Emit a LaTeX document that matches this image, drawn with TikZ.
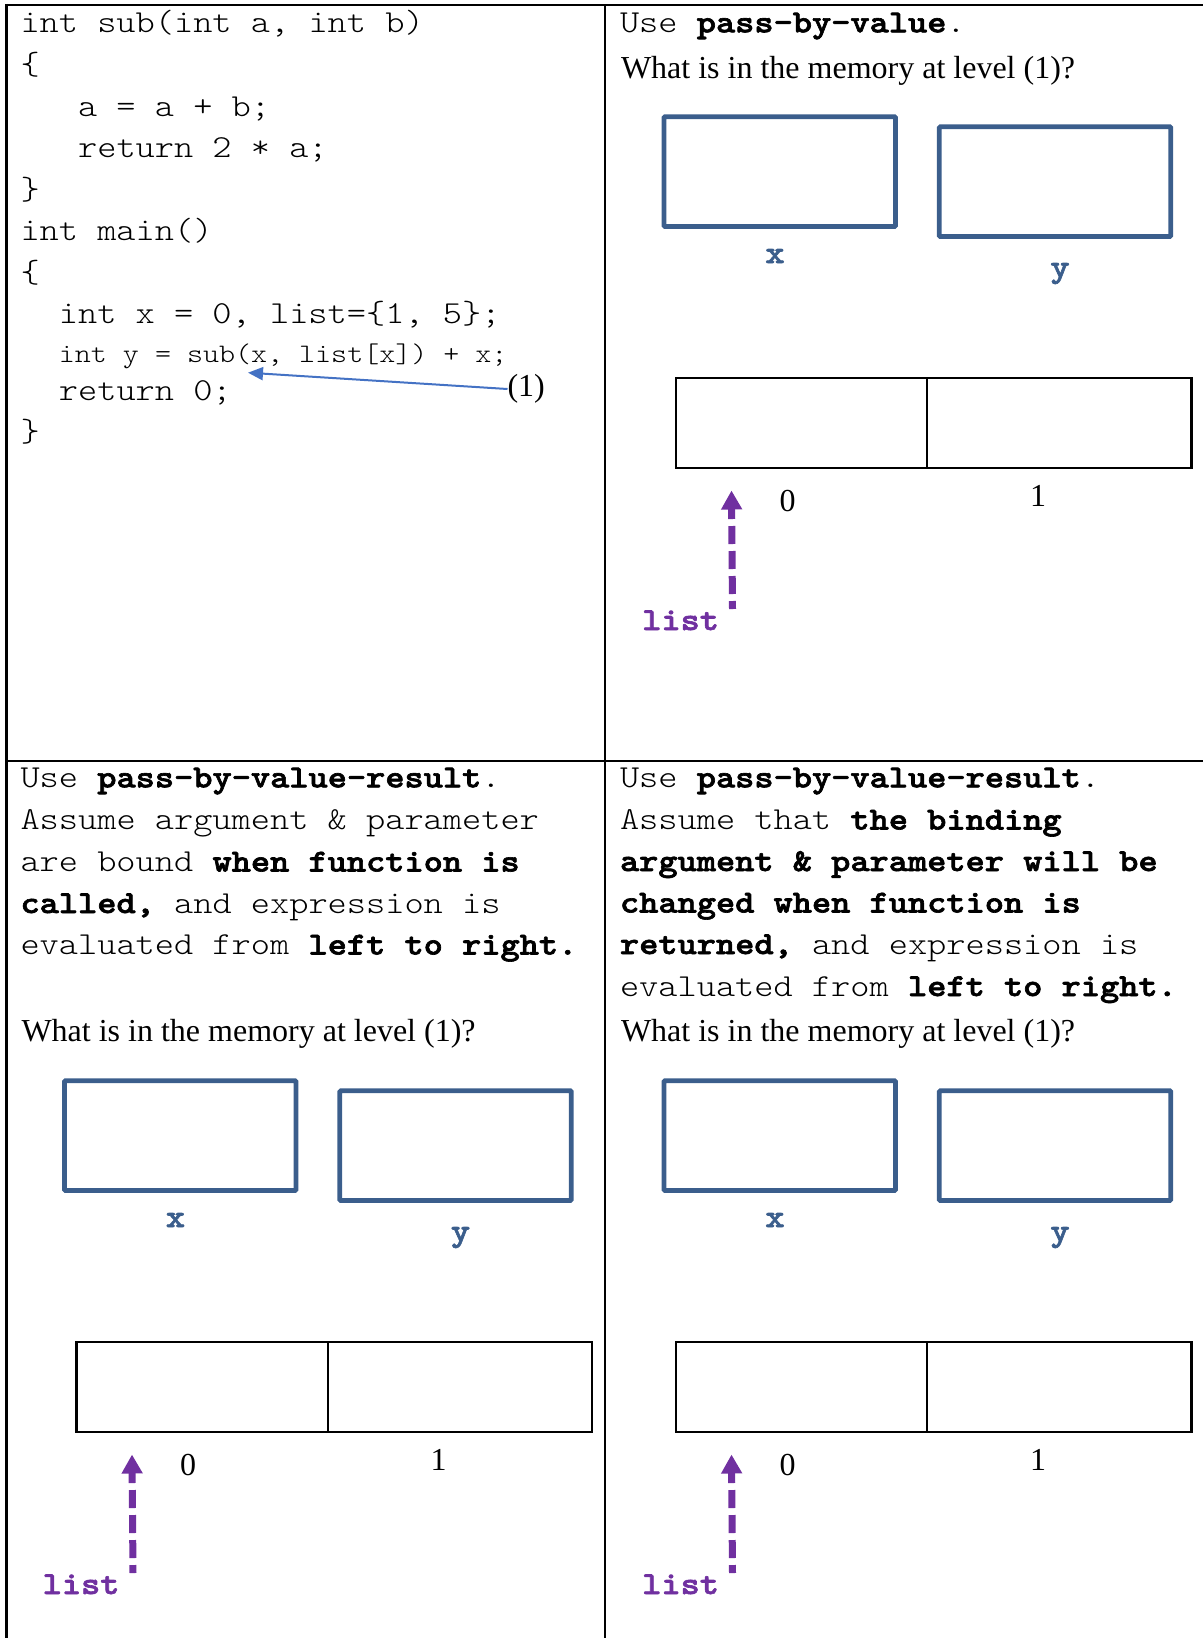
\documentclass[tikz,border=0pt]{standalone}
\usepackage{fontspec}
\setmainfont{Liberation Serif}
\newfontfamily\codefont{lmmonolt10-regular}[Extension=.otf, BoldFont=lmmonolt10-bold, BoldFeatures={FakeBold=2}, FakeStretch=1.143]
\usetikzlibrary{arrows.meta}
\frenchspacing
\definecolor{boxblue}{RGB}{59,94,140}
\definecolor{arrblue}{RGB}{68,114,196}
\definecolor{purp}{RGB}{112,48,160}
\tikzset{
  mono/.style={anchor=base west, inner sep=0pt, outer sep=0pt, font=\codefont\fontsize{32}{38}\selectfont},
  monosmall/.style={anchor=base west, inner sep=0pt, outer sep=0pt, font=\codefont\fontsize{26.7}{32}\selectfont},
  serif/.style={anchor=base west, inner sep=0pt, outer sep=0pt, font=\fontsize{32}{38}\selectfont},
  idx/.style={anchor=base, inner sep=0pt, font=\fontsize{32}{38}\selectfont},
  varlab/.style={anchor=base, inner sep=0pt, text=boxblue, font=\codefont\bfseries\fontsize{32}{38}\selectfont},
  listlab/.style={anchor=base west, inner sep=0pt, text=purp, font=\codefont\bfseries\fontsize{32}{38}\selectfont},
  varbox/.style={draw=boxblue, line width=4.7pt, rounded corners=1pt, minimum width=231.5pt, minimum height=109.7pt, inner sep=0pt},
  cellbox/.style={draw=black, line width=2.2pt, minimum height=89.4pt, inner sep=0pt},
  gridline/.style={draw=black, line width=2.2pt},
  bluearrow/.style={draw=arrblue, line width=2pt, -{Triangle[length=15pt,width=13pt]}},
  purarrow/.style={draw=purp, line width=7pt, dash pattern=on 18pt off 7pt, dash phase=10pt, -{Triangle[length=19pt,width=20pt]}},
}
\newcommand\memcontent[1]{%
  \node[varbox] (#1xbox) at (779.75,171.65) {};
  \node[varbox] (#1ybox) at (1055.05,181.65) {};
  \node[varlab] (#1xlab) at (775,263) {x};
  \node[varlab] (#1ylab) at (1060,277) {y};
  \node[cellbox, minimum width=251.3pt] (#1cellA) at (801.65,423) {};
  \node[cellbox, minimum width=264.2pt] (#1cellB) at (1059.4,423) {};
  \node[idx] (#1idxA) at (787.5,511) {0};
  \node[idx] (#1idxB) at (1038,506.7) {1};
  \node[listlab] (#1list) at (642,630) {list};
  \coordinate (#1tip) at (731.5,490.5);
  \coordinate (#1tail) at (732.5,609);
  \draw[purarrow] (#1tail) -- (#1tip);
}
\begin{document}
\begin{tikzpicture}[x=1pt,y=-1pt]
\useasboundingbox (0,0) rectangle (1203,1638);
% frame
\draw[gridline] (6.5,5) -- (1203,5);
\draw[gridline] (6.5,3.9) -- (6.5,1638);
\draw[gridline] (605,5) -- (605,1638);
\draw[gridline] (6.5,761) -- (1203,761);
% top-left code
\node[mono] (c1) at (20.5,32.3) {int sub(int a, int b)};
\node[mono] (c2) at (20.5,74) {\{};
\node[mono] (c3) at (78.1,116) {a = a + b;};
\node[mono] (c4) at (78.1,157.5) {return 2 * a;};
\node[mono] (c5) at (20.5,199.2) {\}};
\node[mono] (c6) at (20.5,240.8) {int main()};
\node[mono] (c7) at (20.5,282.5) {\{};
\node[mono] (c8) at (58.9,323.5) {int x = 0, list=\{1, 5\};};
\node[monosmall] (c9) at (58.9,362.7) {int y = sub(x, list[x]) + x;};
\node[mono] (c10) at (58.9,400) {return 0;};
\node[mono] (c11) at (20.5,441) {\}};
\node[serif, anchor=west] (lab1) at (507.5,389) {(1)};
\coordinate (tip1) at (248,372.7);
\draw[bluearrow] (lab1.west) -- (tip1);
% top-right
\node[mono] (t1) at (620,32.3) {Use \textbf{pass-by-value}.};
\node[serif] (t2) at (621,78.3) {What is in the memory at level (1)?};
\memcontent{tr}
% bottom-left
\node[mono] (bl1) at (20.5,787.3) {Use \textbf{pass-by-value-result}.};
\node[mono] (bl2) at (20.5,829.5) {Assume argument \& parameter};
\node[mono] (bl3) at (20.5,871.5) {are bound \textbf{when function is}};
\node[mono] (bl4) at (20.5,913) {\textbf{called,} and expression is};
\node[mono] (bl5) at (20.5,954.5) {evaluated from \textbf{left to right.}};
\node[serif] (bl6) at (21.5,1041.7) {What is in the memory at level (1)?};
\begin{scope}[shift={(-599.5,964)}]
\memcontent{bl}
\end{scope}
% bottom-right
\node[mono] (br1) at (620,787.3) {Use \textbf{pass-by-value-result}.};
\node[mono] (br2) at (620,829.5) {Assume that \textbf{the binding}};
\node[mono] (br3) at (620,871) {\textbf{argument \& parameter will be}};
\node[mono] (br4) at (620,912.5) {\textbf{changed when function is}};
\node[mono] (br5) at (620,954) {\textbf{returned,} and expression is};
\node[mono] (br6) at (620,996) {evaluated from \textbf{left to right.}};
\node[serif] (br7) at (621,1041.7) {What is in the memory at level (1)?};
\begin{scope}[shift={(0,964)}]
\memcontent{br}
\end{scope}
\end{tikzpicture}
\end{document}
